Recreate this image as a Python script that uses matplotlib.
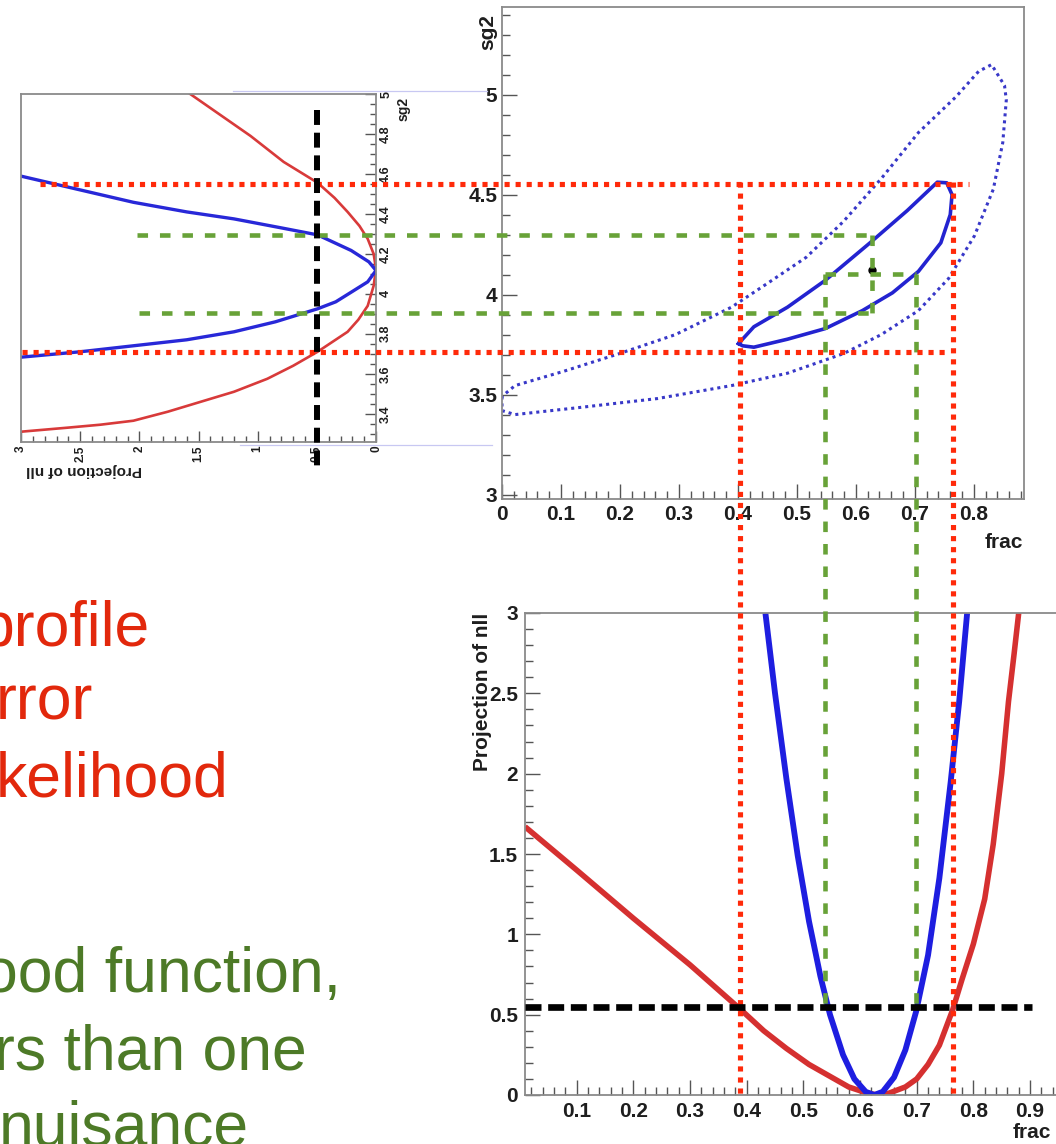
import matplotlib
matplotlib.use("Agg")
import matplotlib.pyplot as plt
from matplotlib.ticker import MultipleLocator, FuncFormatter
from matplotlib.transforms import blended_transform_factory as blend

plt.rcParams['font.family'] = ['Liberation Sans', 'DejaVu Sans']
plt.rcParams['font.weight'] = 'bold'

W, H = 1056, 1144

# ---- 2D contour panel (frac vs sg2) ----
inner_frac = [0.401, 0.427, 0.484, 0.548, 0.624, 0.687, 0.738, 0.754, 0.763,
              0.760, 0.744, 0.706, 0.662, 0.611, 0.548, 0.484, 0.427, 0.408]
inner_sg2 = [3.755, 3.839, 3.937, 4.071, 4.259, 4.420, 4.562, 4.559, 4.500,
             4.400, 4.259, 4.116, 4.009, 3.920, 3.830, 3.777, 3.737, 3.744]

outer_frac = [0.000, 0.000, 0.022, 0.136, 0.263, 0.389, 0.484, 0.579, 0.643,
              0.706, 0.757, 0.801, 0.833, 0.849, 0.855, 0.852, 0.830, 0.808,
              0.770, 0.706, 0.643, 0.579, 0.516, 0.453, 0.389, 0.294, 0.199,
              0.104, 0.022]
outer_sg2 = [3.491, 3.420, 3.400, 3.437, 3.480, 3.545, 3.607, 3.705, 3.800,
             3.920, 4.080, 4.294, 4.527, 4.760, 4.973, 5.045, 5.150, 5.116,
             4.990, 4.810, 4.580, 4.366, 4.187, 4.062, 3.937, 3.800, 3.705,
             3.616, 3.545]

best_frac, best_sg2 = 0.628, 4.124

# ---- rotated sg2 profile panel (nll vs sg2) ----
red_l_sg2 = [5.00, 4.79, 4.66, 4.556, 4.48, 4.41, 4.34, 4.275, 4.20, 4.125,
             4.04, 3.94, 3.87, 3.81, 3.71, 3.64, 3.575, 3.51, 3.46, 3.41,
             3.365, 3.345, 3.33, 3.31]
red_l_nll = [1.57, 1.06, 0.78, 0.494, 0.35, 0.24, 0.14, 0.07, 0.02, 0.0,
             0.02, 0.07, 0.15, 0.24, 0.494, 0.70, 0.918, 1.20, 1.48, 1.76,
             2.05, 2.33, 2.61, 3.00]
blue_l_sg2 = [4.589, 4.52, 4.458, 4.41, 4.375, 4.33, 4.295, 4.25, 4.217,
              4.16, 4.117, 4.06, 4.008, 3.96, 3.925, 3.86, 3.81, 3.77,
              3.74, 3.71, 3.683]
blue_l_nll = [3.00, 2.50, 2.05, 1.60, 1.20, 0.80, 0.494, 0.33, 0.21,
              0.06, 0.0, 0.07, 0.21, 0.34, 0.494, 0.85, 1.20, 1.60,
              2.05, 2.50, 3.00]

# ---- frac profile panel (frac vs nll) ----
red_b_frac = [0.0088, 0.10, 0.20, 0.30, 0.39, 0.43, 0.47, 0.51, 0.55, 0.58,
              0.61, 0.63, 0.65, 0.68, 0.70, 0.72, 0.74, 0.7635, 0.78, 0.80,
              0.82, 0.835, 0.85, 0.862, 0.872, 0.88]
red_b_nll = [1.67, 1.40, 1.10, 0.81, 0.53, 0.40, 0.29, 0.19, 0.11, 0.05,
             0.015, 0.0, 0.01, 0.05, 0.10, 0.19, 0.31, 0.53, 0.72, 0.94,
             1.22, 1.56, 2.00, 2.45, 2.75, 3.00]
blue_b_frac = [0.433, 0.45, 0.47, 0.49, 0.51, 0.53, 0.547, 0.57, 0.59, 0.61,
               0.625, 0.64, 0.66, 0.68, 0.699, 0.72, 0.74, 0.76, 0.775, 0.789]
blue_b_nll = [3.00, 2.50, 1.97, 1.49, 1.08, 0.74, 0.50, 0.25, 0.10, 0.02,
              0.0, 0.02, 0.11, 0.28, 0.52, 0.87, 1.35, 1.95, 2.45, 3.00]

# ---- hand-drawn guide lines ----
red_cut_frac = [0.403, 0.764]
green_cut_frac = [0.548, 0.702]
red_cut_sg2 = [4.553, 3.711]
green_cut_sg2 = [4.297, 3.907]
green_mid_sg2 = 4.104
half_unit = 0.5
half_unit_drawn = 0.545

slide_red = ["profile", "rror", "kelihood"]
slide_green = ["ood function,", "rs than one", "nuisance"]


def box(left, top, right, bottom):
    return [left / W, 1 - bottom / H, (right - left) / W, (bottom - top) / H]


def root_style(ax, size, pad_x, pad_y, major=11, minor=5.5):
    for sp in ax.spines.values():
        sp.set_color('#8a8a8a')
        sp.set_linewidth(1.3)
    ax.tick_params(which='both', direction='in', color='#555555', width=1.0,
                   labelsize=size, labelcolor='#1e1e1e')
    ax.tick_params(which='major', length=major)
    ax.tick_params(which='minor', length=minor)
    ax.tick_params(axis='x', pad=pad_x)
    ax.tick_params(axis='y', pad=pad_y)
    fmt = FuncFormatter(lambda v, p: '%g' % round(v, 3))
    ax.xaxis.set_major_formatter(fmt)
    ax.yaxis.set_major_formatter(fmt)


fig = plt.figure(figsize=(W / 100, H / 100), dpi=100)

# 2D panel
ax2d = fig.add_axes(box(502, 7, 1024, 498.5))
ax2d.set_xlim(0, 0.885)
ax2d.set_ylim(2.9805, 5.438)
ax2d.xaxis.set_major_locator(MultipleLocator(0.1))
ax2d.xaxis.set_minor_locator(MultipleLocator(0.02))
ax2d.yaxis.set_major_locator(MultipleLocator(0.5))
ax2d.yaxis.set_minor_locator(MultipleLocator(0.1))
root_style(ax2d, 15, 5, 3.5)
ax2d.plot(outer_frac + outer_frac[:1], outer_sg2 + outer_sg2[:1], color='#3838c8',
          lw=2.2, linestyle=(0, (1, 1.3)))
ax2d.plot(inner_frac + inner_frac[:1], inner_sg2 + inner_sg2[:1], color='#2323d0',
          lw=2.6, solid_joinstyle='round')
ax2d.plot([best_frac], [best_sg2], 'o', ms=5, color='black')

# rotated sg2 profile panel
axL = fig.add_axes(box(21, 94, 376, 441.7))
axL.set_xlim(3, 0)
axL.set_ylim(3.26, 5.0)
axL.yaxis.tick_right()
axL.xaxis.set_major_locator(MultipleLocator(0.5))
axL.xaxis.set_minor_locator(MultipleLocator(0.1))
axL.yaxis.set_major_locator(MultipleLocator(0.2))
axL.yaxis.set_minor_locator(MultipleLocator(0.05))
root_style(axL, 8.5, 3, 3, major=8, minor=4)
axL.tick_params(axis='y', labelsize=9)
axL.plot(red_l_nll, red_l_sg2, color='#d83a3a', lw=1.9)
axL.plot(blue_l_nll, blue_l_sg2, color='#2828d8', lw=2.4)
for lab in axL.get_xticklabels():
    lab.set_rotation(90)
    lab.set_ha('center')
    lab.set_va('top')
for lab in axL.get_yticklabels():
    lab.set_rotation(90)
    lab.set_ha('left')
    lab.set_va('center')

# frac profile panel, cut by the right edge of the slide
axB = fig.add_axes(box(525, 613, 1056, 1095))
axB.set_xlim(0.0088, 0.9458)
axB.set_ylim(0, 3)
axB.spines['right'].set_visible(False)
axB.xaxis.set_major_locator(MultipleLocator(0.1))
axB.xaxis.set_minor_locator(MultipleLocator(0.02))
axB.yaxis.set_major_locator(MultipleLocator(0.5))
axB.yaxis.set_minor_locator(MultipleLocator(0.1))
root_style(axB, 15, 5, 5)
axB.plot(red_b_frac, red_b_nll, color='#d53030', lw=4.0, solid_capstyle='butt')
axB.plot(blue_b_frac, blue_b_nll, color='#1e1ee0', lw=4.2, solid_capstyle='butt')

# overlay in pixel coordinates
ov = fig.add_axes([0, 0, 1, 1])
ov.set_axis_off()
ov.set_xlim(0, W)
ov.set_ylim(H, 0)

red_dot = dict(color='#ff2a0a', lw=3.7, dashes=(1, 1.15), dash_capstyle='butt', clip_on=False)
green_dash = dict(color='#68a238', lw=3.3, dashes=(2.3, 2.6), dash_capstyle='butt', clip_on=False)
black_dash = dict(color='black', lw=4.8, dashes=(2.4, 1.0), dash_capstyle='butt', clip_on=False)

v2d = blend(ax2d.transData, ov.transData)
h2d = blend(ov.transData, ax2d.transData)

for f in red_cut_frac:
    ov.plot([f, f], [182, 1095], transform=v2d, **red_dot)
for f in green_cut_frac:
    ov.plot([f, f], [274, 1008], transform=v2d, **green_dash)
ov.plot([40, 969], [red_cut_sg2[0]] * 2, transform=h2d, **red_dot)
ov.plot([22, 950], [red_cut_sg2[1]] * 2, transform=h2d, **red_dot)
ov.plot([137, 875], [green_cut_sg2[0]] * 2, transform=h2d, **green_dash)
ov.plot([139, 875], [green_cut_sg2[1]] * 2, transform=h2d, **green_dash)
ov.plot(green_cut_frac, [green_mid_sg2] * 2, transform=ax2d.transData, **green_dash)
ov.plot([best_frac] * 2, green_cut_sg2, transform=ax2d.transData, **green_dash)

ov.plot([half_unit] * 2, [110, 467], transform=blend(axL.transData, ov.transData),
        color='black', lw=4.3, dashes=(2.5, 1.3), dash_capstyle='butt', clip_on=False)
ov.plot([525, 1032], [half_unit_drawn] * 2, transform=blend(ov.transData, axB.transData),
        **black_dash)

# faint edges of the pasted rotated picture
ov.plot([233, 487], [91, 91], color='#c8c8f2', lw=0.9)
ov.plot([240, 492], [445, 445], color='#c8c8f2', lw=0.9)

# axis titles
ov.text(488, 32, 'sg2', rotation=90, ha='center', va='center', fontsize=15, color='#1e1e1e')
ov.text(1023, 543, 'frac', ha='right', va='center', fontsize=15, color='#1e1e1e')
ov.text(404, 109, 'sg2', rotation=90, ha='center', va='center', fontsize=10, color='#1e1e1e')
ov.text(84, 470, 'Projection of nll', rotation=180, ha='center', va='center',
        fontsize=11, color='#1e1e1e')
ov.text(483, 613, 'Projection of nll', rotation=90, ha='center', va='top',
        fontsize=15, color='#1e1e1e')
ov.text(1032, 1133, 'frac', ha='center', va='center', fontsize=15, color='#1e1e1e')

# slide text, cut by the left edge
for s, x, y in zip(slide_red, [-20, -4, -4], [646, 720, 796.5]):
    ov.text(x, y, s, fontsize=45, color='#e2280c', fontweight='normal', va='baseline')
for s, x, y in zip(slide_green, [-17, -6, -1], [992, 1069.5, 1146]):
    ov.text(x, y, s, fontsize=45, color='#4d7a27', fontweight='normal', va='baseline')

fig.savefig('out.png', dpi=100)
